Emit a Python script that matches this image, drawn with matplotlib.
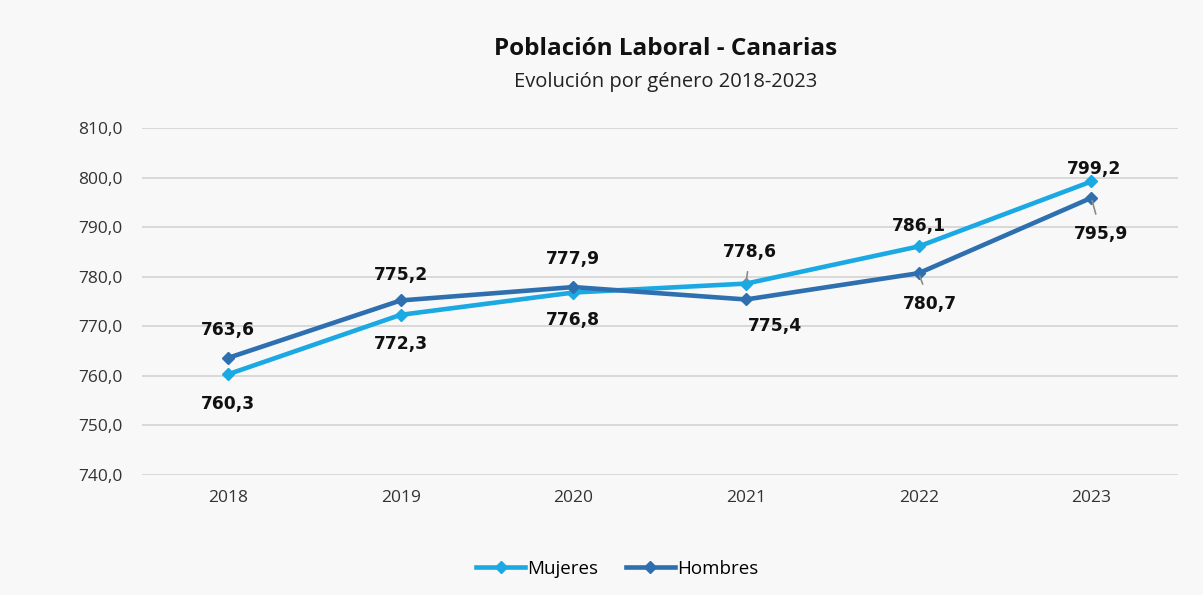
import matplotlib
matplotlib.use("Agg")
import matplotlib.pyplot as plt

years = ["2018", "2019", "2020", "2021", "2022", "2023"]
mujeres = [760.3, 772.3, 776.8, 778.6, 786.1, 799.2]
hombres = [763.6, 775.2, 777.9, 775.4, 780.7, 795.9]
yticks = [740, 750, 760, 770, 780, 790, 800, 810]

# label offsets in points (dx, dy) and whether a leader line is drawn
muj_off = [(0, -21), (0, -21), (0, -20), (3, 23), (0, 15), (2, 9)]
muj_lead = [False, False, False, True, False, False]
hom_off = [(0, 20), (0, 18), (0, 20), (21, -19), (8, -22), (7, -26)]
hom_lead = [False, False, False, False, True, True]

c_muj = "#1aa9e2"
c_hom = "#2e6fb0"
bg = "#f8f8f8"

fig = plt.figure(figsize=(12.03, 5.95), dpi=100, facecolor=bg)
ax = fig.add_axes([0.1177, 0.2017, 0.8613, 0.5833], facecolor=bg)

x = list(range(len(years)))
ax.plot(x, mujeres, color=c_muj, lw=3.3, marker="D", ms=6.5, label="Mujeres", zorder=3,
        solid_joinstyle="round")
ax.plot(x, hombres, color=c_hom, lw=3.3, marker="D", ms=6.5, label="Hombres", zorder=3,
        solid_joinstyle="round")

ax.set_xlim(-0.5, len(years) - 0.5)
ax.set_ylim(740, 810)
ax.set_yticks(yticks)
ax.set_yticklabels([f"{v:.1f}".replace(".", ",") for v in yticks])
ax.set_xticks(x)
ax.set_xticklabels(years)
ax.grid(axis="y", color="#d6d6d6", lw=1.3)
ax.set_axisbelow(True)
for s in ax.spines.values():
    s.set_visible(False)
ax.tick_params(length=0, labelsize=12.5, colors="#333333", pad=14)
ax.tick_params(axis="x", pad=11)
for lab in ax.get_xticklabels() + ax.get_yticklabels():
    lab.set_fontfamily("Open Sans")

def label(series, offs, leads):
    for i, v in enumerate(series):
        dx, dy = offs[i]
        txt = f"{v:.1f}".replace(".", ",")
        kw = {}
        if leads[i]:
            kw["arrowprops"] = dict(arrowstyle="-", color="#8c8c8c", lw=1.2,
                                    shrinkA=6, shrinkB=2)
        ax.annotate(txt, (i, v), xytext=(dx, dy), textcoords="offset points",
                    ha="center", va="center", fontsize=12.3, fontweight="bold",
                    color="#111111", family="DejaVu Sans", zorder=4, **kw)

label(mujeres, muj_off, muj_lead)
label(hombres, hom_off, hom_lead)

fig.text(0.553, 0.918, "Población Laboral - Canarias", ha="center", va="center",
         fontsize=17.5, fontweight="bold", family="Open Sans", color="#111111")
fig.text(0.553, 0.862, "Evolución por género 2018-2023", ha="center", va="center",
         fontsize=14.5, family="Open Sans", color="#222222")

leg = fig.legend(loc="center", bbox_to_anchor=(0.513, 0.044), ncol=2, frameon=False,
                 handlelength=2.6, handletextpad=0.1, columnspacing=1.5,
                 prop={"family": "Open Sans", "size": 13.5})

fig.savefig("out.png", dpi=100, facecolor=bg)
